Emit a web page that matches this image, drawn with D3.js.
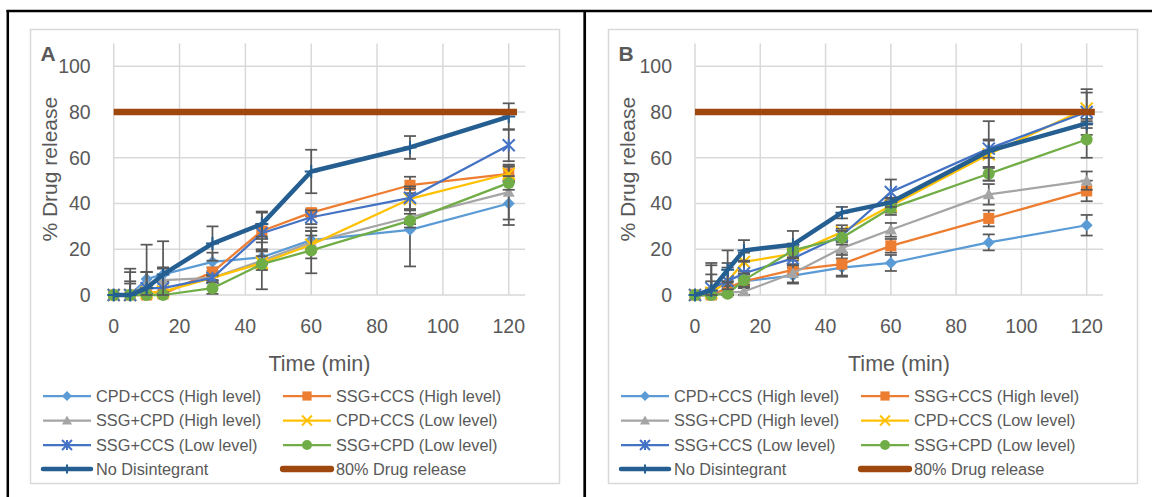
<!DOCTYPE html>
<html>
<head>
<meta charset="utf-8">
<script src="https://cdn.jsdelivr.net/npm/d3@7"></script>
<style>
  body { margin: 0; background: #fff; }
  svg { display: block; }
  text { font-family: "Liberation Sans", Arial, sans-serif; fill: #595959; }
</style>
</head>
<body>
<div id="chart"></div>
<script>
// sampling times (min)
var timePoints = [0, 5, 10, 15, 30, 45, 60, 90, 120];
var xTicks = [0, 20, 40, 60, 80, 100, 120];
var yTicks = [0, 20, 40, 60, 80, 100];
var seriesNames = ["CPD+CCS (High level)", "SSG+CCS (High level)", "SSG+CPD (High level)",
  "CPD+CCS (Low level)", "SSG+CCS (Low level)", "SSG+CPD (Low level)",
  "No Disintegrant", "80% Drug release"];
var seriesColors = ["#5B9BD5", "#ED7D31", "#A5A5A5", "#FFC000", "#4472C4", "#70AD47", "#255E91", "#9E480E"];
var seriesMarkers = ["diamond", "square", "triangle", "x", "asterisk", "circle", "plus", "none"];

// 80% reference line
var refTime = [0, 122.5];
var refValue = [80, 80];

// panel A values and SD
var aCpdCcsHigh = [0, 0, 7, 9, 14.5, 16.5, 24, 28.5, 40];
var aSsgCcsHigh = [0, 0, 0, 0.5, 10, 28, 36, 48, 53];
var aSsgCpdHigh = [0, 0, 5, 6.5, 7.5, 15, 23, 34, 45];
var aCpdCcsLow = [0, 0, 1, 1.5, 7.5, 14, 22, 42, 53];
var aSsgCcsLow = [0, 0, 3, 3, 7.5, 27, 34, 42.5, 65.5];
var aSsgCpdLow = [0, 0, 0, 0, 3, 13.5, 19.5, 32.5, 49];
var aNoDis = [0, 0, 3, 9, 22.5, 31, 54, 64.5, 78];

var aCpdCcsHighErr = [0, 0, 3, 3, 4, 3, 4, 16, 9.4];
var aSsgCcsHighErr = [0, 0, 0, 1, 2, 8, 1.5, 3.7, 3.4];
var aSsgCpdHighErr = [0, 5, 5, 5, 1.5, 4, 3, 3, 12];
var aCpdCcsLowErr = [0, 6, 2, 2, 1, 3, 6, 4.5, 3];
var aSsgCcsLowErr = [0, 10, 7, 9, 1, 4, 3, 5, 7];
var aSsgCpdLowErr = [0, 0, 0, 0, 2.5, 11, 10, 3, 3];
var aNoDisErr = [0, 11.5, 19, 14.5, 7.5, 5.5, 9.5, 5, 5.8];

// panel B values and SD
var bCpdCcsHigh = [0, 0, 3, 6, 8.5, 12, 14, 23, 30.5];
var bSsgCcsHigh = [0, 0, 3, 6, 11, 13.5, 21.5, 33.5, 45.5];
var bSsgCpdHigh = [0, 0, 1, 1.5, 9.5, 20.5, 28.5, 44, 50];
var bCpdCcsLow = [0, 1, 6, 14.5, 18, 27.5, 39, 61.5, 81.5];
var bSsgCcsLow = [0, 3, 6, 9.5, 16, 26, 45, 64, 80];
var bSsgCpdLow = [0, 0, 0.5, 6.5, 19.5, 25, 38, 53, 68];
var bNoDis = [0, 2, 11, 19.5, 22, 36, 40.5, 63, 75];

var bCpdCcsHighErr = [0, 2, 3, 3, 3.5, 4, 3.5, 3.5, 4.5];
var bSsgCcsHighErr = [0, 2, 3, 3, 2, 5, 3, 3.5, 4.5];
var bSsgCpdHighErr = [0, 3, 3, 2, 4, 3, 3, 4.5, 4];
var bCpdCcsLowErr = [0, 8, 6, 4, 3, 3, 3, 6, 7];
var bSsgCcsLowErr = [0, 10, 8, 5, 3, 3, 5.5, 4, 10];
var bSsgCpdLowErr = [0, 6, 5, 3, 3, 3, 3, 3, 8];
var bNoDisErr = [0, 12, 8.5, 4.5, 6, 2.5, 2, 13, 2];

var panels = [
  { letter: "A", frameX: 30, left: 113.7, right: 525.2,
    values: [aCpdCcsHigh, aSsgCcsHigh, aSsgCpdHigh, aCpdCcsLow, aSsgCcsLow, aSsgCpdLow, aNoDis],
    errors: [aCpdCcsHighErr, aSsgCcsHighErr, aSsgCpdHighErr, aCpdCcsLowErr, aSsgCcsLowErr, aSsgCpdLowErr, aNoDisErr] },
  { letter: "B", frameX: 608, left: 695, right: 1103,
    values: [bCpdCcsHigh, bSsgCcsHigh, bSsgCpdHigh, bCpdCcsLow, bSsgCcsLow, bSsgCpdLow, bNoDis],
    errors: [bCpdCcsHighErr, bSsgCcsHighErr, bSsgCpdHighErr, bCpdCcsLowErr, bSsgCcsLowErr, bSsgCpdLowErr, bNoDisErr] }
];

var W = 1152, H = 497;
var svg = d3.select("#chart").append("svg").attr("width", W).attr("height", H);

// table borders
svg.append("line").attr("x1", 6.5).attr("x2", W).attr("y1", 11).attr("y2", 11)
  .attr("stroke", "#000").attr("stroke-width", 2.5);
svg.append("line").attr("x1", 7.8).attr("x2", 7.8).attr("y1", 10).attr("y2", H)
  .attr("stroke", "#000").attr("stroke-width", 2.5);
svg.append("line").attr("x1", 584.7).attr("x2", 584.7).attr("y1", 10).attr("y2", H)
  .attr("stroke", "#000").attr("stroke-width", 2.7);

// marker drawing
function drawMarker(g, type, color, cx, cy, s) {
  var h = s / 2, p;
  if (type == "circle") {
    g.append("circle").attr("cx", cx).attr("cy", cy).attr("r", h).attr("fill", color);
    return;
  }
  if (type == "diamond") p = "M0," + (-h) + "L" + h + ",0L0," + h + "L" + (-h) + ",0Z";
  else if (type == "square") { h = h * 0.92; p = "M" + (-h) + "," + (-h) + "H" + h + "V" + h + "H" + (-h) + "Z"; }
  else if (type == "triangle") p = "M0," + (-h) + "L" + h + "," + (h * 0.8) + "L" + (-h) + "," + (h * 0.8) + "Z";
  else if (type == "x") p = "M" + (-h) + "," + (-h) + "L" + h + "," + h + "M" + h + "," + (-h) + "L" + (-h) + "," + h;
  else if (type == "asterisk") p = "M" + (-h) + "," + (-h) + "L" + h + "," + h + "M" + h + "," + (-h) + "L" + (-h) + "," + h + "M0," + (-h) + "L0," + h;
  else if (type == "plus") p = "M" + (-h) + ",0L" + h + ",0M0," + (-h) + "L0," + h;
  else return;
  var path = g.append("path").attr("d", p).attr("transform", "translate(" + cx + "," + cy + ")");
  if (type == "x" || type == "asterisk" || type == "plus")
    path.attr("fill", "none").attr("stroke", color).attr("stroke-width", 2);
  else
    path.attr("fill", color);
}

panels.forEach(function(pn) {
  var g = svg.append("g");
  var fx = pn.frameX;

  // chart frame
  g.append("rect").attr("x", fx + 0.5).attr("y", 29.5).attr("width", 529).attr("height", 454)
    .attr("fill", "#fff").attr("stroke", "#D9D9D9").attr("stroke-width", 1.5);

  var x = d3.scaleLinear().domain([0, 125]).range([pn.left, pn.right]);
  var y = d3.scaleLinear().domain([0, 110]).range([295, 43.4]);

  // gridlines
  g.selectAll(".vg").data(xTicks).enter().append("line")
    .attr("x1", function(d) { return x(d); }).attr("x2", function(d) { return x(d); })
    .attr("y1", y(110)).attr("y2", y(0))
    .attr("stroke", "#D9D9D9").attr("stroke-width", 1.5);
  g.selectAll(".hg").data(yTicks).enter().append("line")
    .attr("x1", x(0)).attr("x2", x(125))
    .attr("y1", function(d) { return y(d); }).attr("y2", function(d) { return y(d); })
    .attr("stroke", "#D9D9D9").attr("stroke-width", 1.5);

  // tick labels
  g.selectAll(".yl").data(yTicks).enter().append("text")
    .attr("x", pn.left - 23).attr("y", function(d) { return y(d); }).attr("dy", "0.35em")
    .attr("text-anchor", "end").style("font-size", "19.5px")
    .text(function(d) { return d; });
  g.selectAll(".xl").data(xTicks).enter().append("text")
    .attr("x", function(d) { return x(d); }).attr("y", 333)
    .attr("text-anchor", "middle").style("font-size", "19.5px")
    .text(function(d) { return d; });

  // axis titles
  g.append("text").attr("x", (x(0) + x(125)) / 2).attr("y", 370.5)
    .attr("text-anchor", "middle").style("font-size", "21.5px").text("Time (min)");
  g.append("text").attr("transform", "translate(" + (fx + 27) + "," + y(55) + ") rotate(-90)")
    .attr("text-anchor", "middle").style("font-size", "21px").text("% Drug release");

  // panel letter
  g.append("text").attr("x", fx + 10.5).attr("y", 61).style("font-size", "21px")
    .style("font-weight", "bold").text(pn.letter);

  var line = d3.line().x(function(d) { return x(d[0]); }).y(function(d) { return y(d[1]); });

  // series
  pn.values.forEach(function(vals, i) {
    var sg = g.append("g");
    var errs = pn.errors[i];
    var pts = timePoints.map(function(t, k) { return [t, vals[k]]; });
    // error bars
    pts.forEach(function(p, k) {
      var e = errs[k];
      if (!e) return;
      var cx = x(p[0]);
      var top = y(p[1] + e), bot = y(Math.max(p[1] - e, 0));
      sg.append("line").attr("x1", cx).attr("x2", cx).attr("y1", top).attr("y2", bot)
        .attr("stroke", "#595959").attr("stroke-width", 1.75);
      [top, bot].forEach(function(cy) {
        sg.append("line").attr("x1", cx - 6).attr("x2", cx + 6).attr("y1", cy).attr("y2", cy)
          .attr("stroke", "#595959").attr("stroke-width", 1.75);
      });
    });
    sg.append("path").datum(pts).attr("d", line).attr("fill", "none")
      .attr("stroke", seriesColors[i]).attr("stroke-width", i == 6 ? 4.5 : 2.25)
      .attr("stroke-linejoin", "round");
    pts.forEach(function(p) {
      drawMarker(sg, seriesMarkers[i], seriesColors[i], x(p[0]), y(p[1]), i == 6 ? 13 : 12);
    });
  });

  // 80% line
  var refPts = refTime.map(function(t, k) { return [t, refValue[k]]; });
  g.append("path").datum(refPts).attr("d", line).attr("fill", "none")
    .attr("stroke", seriesColors[7]).attr("stroke-width", 6.3);

  // legend
  var rowY = [396, 420.5, 445, 469];
  seriesNames.forEach(function(name, i) {
    var col = i % 2, row = Math.floor(i / 2);
    var lx = fx + (col == 0 ? 13 : 253);
    var ly = rowY[row];
    var lg = g.append("g");
    lg.append("line").attr("x1", lx).attr("x2", lx + 48).attr("y1", ly).attr("y2", ly)
      .attr("stroke", seriesColors[i])
      .attr("stroke-width", i == 7 ? 6.3 : (i == 6 ? 4.5 : 2.25))
      .attr("stroke-linecap", i >= 6 ? "round" : "butt");
    drawMarker(lg, seriesMarkers[i], seriesColors[i], lx + 24, ly, i == 6 ? 9 : 10);
    lg.append("text").attr("x", lx + 53).attr("y", ly).attr("dy", "0.36em")
      .style("font-size", "16.3px").text(name);
  });
});
</script>
</body>
</html>
